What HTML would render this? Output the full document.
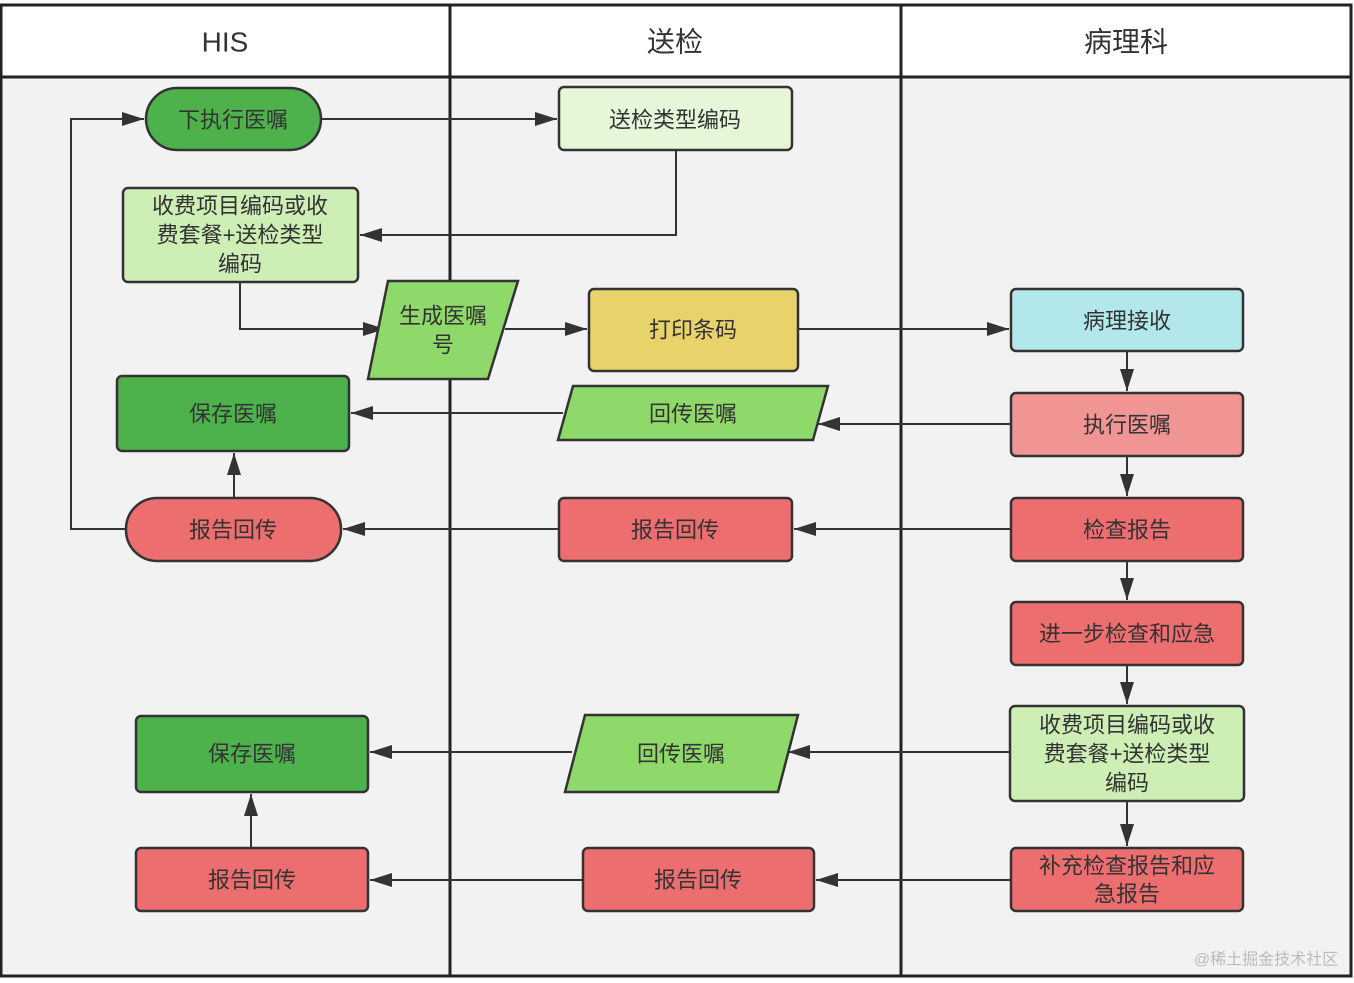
<!DOCTYPE html>
<html><head><meta charset="utf-8"><style>
body{margin:0;background:#fff}
svg text{font-family:"Liberation Sans","Noto Sans CJK SC",sans-serif;fill:#333;font-size:22px;text-anchor:middle;dominant-baseline:central}
</style></head><body>
<svg width="1354" height="978" viewBox="0 0 1354 978" xmlns="http://www.w3.org/2000/svg">
<defs><marker id="a" viewBox="0 0 10 10" refX="10" refY="5" markerWidth="8" markerHeight="8" markerUnits="userSpaceOnUse" orient="auto"><path d="M0,0L10,5L0,10z" fill="#333"/></marker>
<marker id="b" viewBox="0 0 10 10" refX="10" refY="5" markerWidth="22" markerHeight="14" markerUnits="userSpaceOnUse" orient="auto" preserveAspectRatio="none"><path d="M0,0L10,5L0,10z" fill="#333"/></marker></defs>
<rect x="1" y="5" width="1350" height="971" fill="#f2f2f2"/>
<rect x="1" y="5" width="1350" height="72" fill="#fff"/>
<g stroke="#222" stroke-width="3" fill="none">
<rect x="1" y="5" width="1350" height="971"/>
<line x1="1" y1="77" x2="1351" y2="77"/>
<line x1="450" y1="5" x2="450" y2="976"/>
<line x1="901" y1="5" x2="901" y2="976"/>
</g>
<text x="225" y="42" style="font-size:28px">HIS</text>
<text x="675" y="42" style="font-size:28px">送检</text>
<text x="1126" y="42" style="font-size:28px">病理科</text>
<g stroke="#333" stroke-width="2" fill="none" marker-end="url(#b)">
<path d="M321,119H557"/>
<path d="M676,150V235H360"/>
<path d="M240,282V329H385"/>
<path d="M505,329H587"/>
<path d="M798,329H1009"/>
<path d="M1127,351V391"/><path d="M1127,456V496"/><path d="M1127,561V600"/><path d="M1127,665V704"/><path d="M1127,801V846"/>
<path d="M1011,424H818"/>
<path d="M563,413H351"/>
<path d="M234,498V453"/>
<path d="M1011,529H794"/><path d="M559,529H343"/>
<path d="M126,529H71V119H144"/>
<path d="M1010,752H788"/><path d="M572,752H370"/>
<path d="M251,848V794"/>
<path d="M1011,880H816"/><path d="M583,880H370"/>
</g>
<g stroke="#333" stroke-width="2.5">
<rect x="146" y="88" width="175" height="62" rx="31" fill="#4db24b"/>
<rect x="559" y="87" width="233" height="63" rx="5" fill="#e6f7d9"/>
<rect x="123" y="188" width="235" height="94" rx="5" fill="#cdeeb5"/>
<polygon points="388,281 518,281 488,379 368,379" fill="#8fd96a"/>
<rect x="589" y="289" width="209" height="82" rx="5" fill="#e8d26a"/>
<rect x="1011" y="289" width="232" height="62" rx="5" fill="#b3e8ea"/>
<rect x="117" y="376" width="232" height="75" rx="5" fill="#4db24b"/>
<polygon points="573,386 828,386 813,440 558,440" fill="#8fd96a"/>
<rect x="1011" y="393" width="232" height="63" rx="5" fill="#f09494"/>
<rect x="126" y="498" width="215" height="63" rx="31" fill="#ec6e6e"/>
<rect x="559" y="498" width="233" height="63" rx="5" fill="#ec6e6e"/>
<rect x="1011" y="498" width="232" height="63" rx="5" fill="#ec6e6e"/>
<rect x="1011" y="602" width="232" height="63" rx="5" fill="#ec6e6e"/>
<rect x="1010" y="706" width="234" height="95" rx="5" fill="#cdeeb5"/>
<rect x="1011" y="848" width="232" height="63" rx="5" fill="#ec6e6e"/>
<rect x="136" y="716" width="232" height="76" rx="5" fill="#4db24b"/>
<polygon points="585,715 798,715 778,792 565,792" fill="#8fd96a"/>
<rect x="136" y="848" width="232" height="63" rx="5" fill="#ec6e6e"/>
<rect x="583" y="848" width="231" height="63" rx="5" fill="#ec6e6e"/>
</g>
<text x="233" y="120">下执行医嘱</text>
<text x="675" y="120">送检类型编码</text>
<text x="240" y="206">收费项目编码或收</text><text x="240" y="235">费套餐+送检类型</text><text x="240" y="264">编码</text>
<text x="443" y="316">生成医嘱</text><text x="443" y="345">号</text>
<text x="693" y="330">打印条码</text>
<text x="1127" y="321">病理接收</text>
<text x="233" y="414">保存医嘱</text>
<text x="693" y="414">回传医嘱</text>
<text x="1127" y="425">执行医嘱</text>
<text x="233" y="530">报告回传</text>
<text x="675" y="530">报告回传</text>
<text x="1127" y="530">检查报告</text>
<text x="1127" y="634">进一步检查和应急</text>
<text x="1127" y="725">收费项目编码或收</text><text x="1127" y="754">费套餐+送检类型</text><text x="1127" y="783">编码</text>
<text x="1127" y="866">补充检查报告和应</text><text x="1127" y="894">急报告</text>
<text x="252" y="754">保存医嘱</text>
<text x="681" y="754">回传医嘱</text>
<text x="252" y="880">报告回传</text>
<text x="698" y="880">报告回传</text>
<text x="1266" y="960" style="font-size:16px;fill:#bbb">@稀土掘金技术社区</text>
</svg>
</body></html>
